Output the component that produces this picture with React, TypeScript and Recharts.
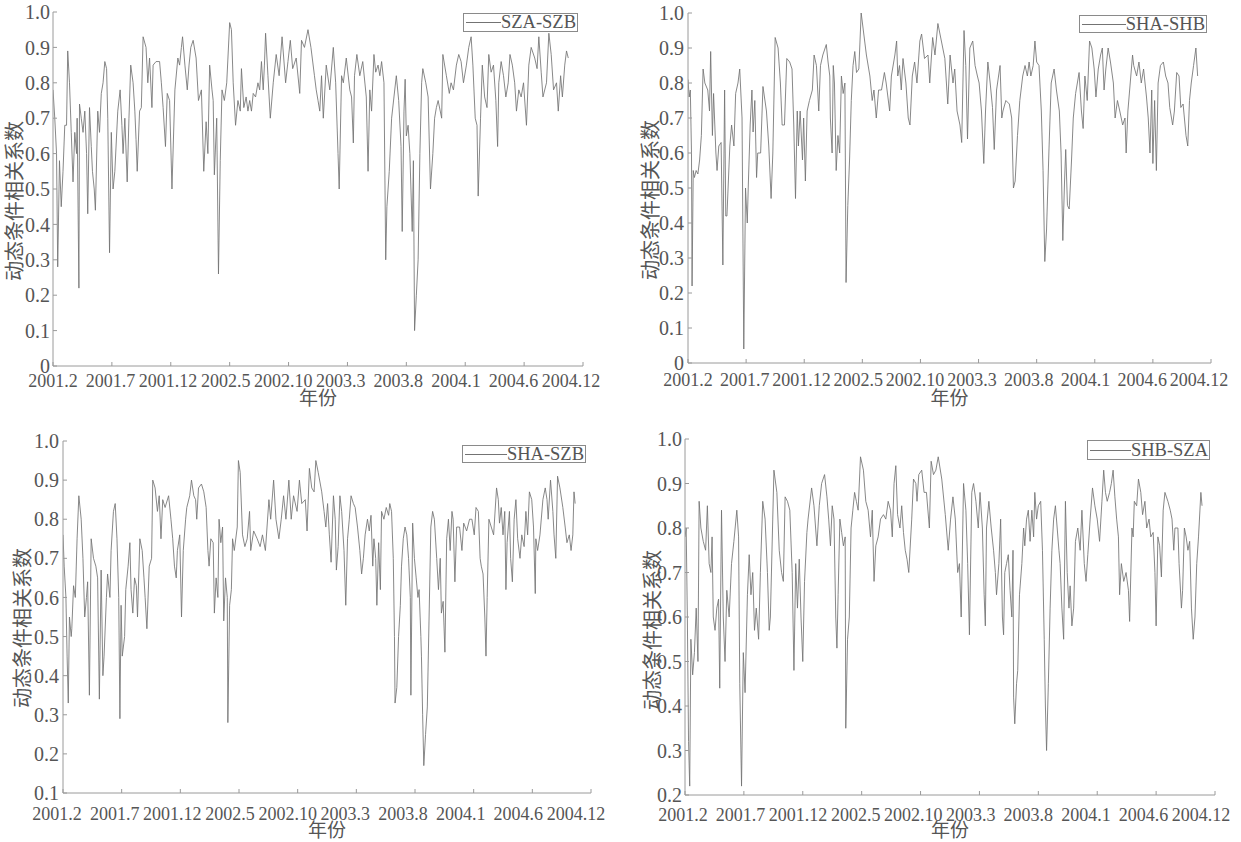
import React from 'react';
import { LineChart, Line, XAxis, YAxis, Legend } from 'recharts';

// trading-day index 0..900 on the x axis, one tick every 100 days
const xTicks = [0, 100, 200, 300, 400, 500, 600, 700, 800, 900];
const xTickLabels = ['2001.2', '2001.7', '2001.12', '2002.5', '2002.10', '2003.3', '2003.8', '2004.1', '2004.6', '2004.12'];

const yTicksFrom0 = [0, 0.1, 0.2, 0.3, 0.4, 0.5, 0.6, 0.7, 0.8, 0.9, 1.0];
const yTicksFrom01 = [0.1, 0.2, 0.3, 0.4, 0.5, 0.6, 0.7, 0.8, 0.9, 1.0];
const yTicksFrom02 = [0.2, 0.3, 0.4, 0.5, 0.6, 0.7, 0.8, 0.9, 1.0];

// [day, dcc] pairs
const szaSzb: [number, number][] = [
  [0,0.78],[3,0.70],[6,0.60],[8,0.28],[11,0.58],[14,0.45],[17,0.55],[20,0.68],[23,0.68],[25,0.89],[28,0.80],[31,0.66],[34,0.52],[37,0.66],[40,0.60],[41,0.70],[44,0.22],[45,0.74],[48,0.70],[51,0.66],[54,0.72],[57,0.60],[59,0.43],[62,0.73],[65,0.62],[67,0.55],[70,0.50],[72,0.44],[76,0.72],[79,0.66],[82,0.77],[85,0.80],[88,0.86],[91,0.84],[93,0.70],[96,0.32],[99,0.66],[102,0.50],[105,0.55],[110,0.72],[114,0.78],[117,0.68],[119,0.60],[122,0.70],[126,0.52],[129,0.70],[132,0.85],[136,0.80],[139,0.72],[141,0.64],[143,0.55],[147,0.72],[150,0.73],[153,0.93],[158,0.90],[161,0.80],[164,0.87],[168,0.73],[170,0.85],[175,0.86],[181,0.86],[184,0.80],[187,0.73],[191,0.62],[194,0.77],[198,0.75],[202,0.50],[207,0.78],[212,0.87],[215,0.85],[218,0.90],[220,0.93],[224,0.85],[228,0.78],[231,0.85],[234,0.90],[238,0.92],[243,0.87],[247,0.75],[252,0.78],[256,0.55],[260,0.69],[263,0.60],[266,0.85],[270,0.78],[272,0.75],[274,0.54],[278,0.70],[281,0.26],[284,0.58],[287,0.78],[291,0.75],[295,0.80],[300,0.97],[303,0.95],[306,0.80],[310,0.68],[314,0.75],[318,0.72],[320,0.84],[324,0.73],[328,0.76],[331,0.72],[334,0.75],[337,0.72],[340,0.77],[344,0.76],[348,0.80],[351,0.78],[354,0.86],[357,0.78],[359,0.85],[361,0.94],[365,0.82],[369,0.70],[374,0.80],[379,0.88],[384,0.82],[389,0.93],[395,0.80],[399,0.86],[403,0.92],[407,0.84],[413,0.87],[419,0.77],[422,0.92],[427,0.90],[433,0.95],[438,0.90],[444,0.82],[447,0.78],[450,0.75],[453,0.72],[456,0.82],[459,0.70],[464,0.85],[470,0.78],[476,0.90],[480,0.80],[484,0.60],[486,0.50],[490,0.82],[493,0.80],[498,0.87],[504,0.78],[507,0.76],[510,0.63],[512,0.82],[516,0.88],[521,0.82],[526,0.86],[532,0.76],[535,0.55],[538,0.78],[541,0.72],[545,0.88],[548,0.83],[552,0.85],[555,0.82],[558,0.86],[562,0.80],[565,0.30],[567,0.45],[571,0.55],[575,0.70],[579,0.76],[583,0.82],[587,0.75],[591,0.62],[593,0.38],[596,0.72],[598,0.81],[600,0.65],[603,0.68],[606,0.60],[610,0.38],[612,0.58],[614,0.10],[617,0.20],[620,0.30],[623,0.60],[626,0.80],[628,0.84],[633,0.80],[637,0.76],[641,0.50],[645,0.60],[648,0.70],[651,0.73],[654,0.75],[660,0.70],[662,0.88],[668,0.82],[673,0.77],[676,0.80],[680,0.78],[685,0.85],[689,0.88],[693,0.86],[697,0.80],[702,0.85],[706,0.90],[710,0.93],[713,0.85],[717,0.70],[720,0.68],[722,0.48],[726,0.70],[729,0.85],[733,0.76],[737,0.73],[740,0.88],[744,0.83],[748,0.85],[752,0.75],[755,0.62],[757,0.80],[761,0.86],[765,0.82],[769,0.76],[773,0.80],[776,0.88],[780,0.85],[784,0.80],[787,0.72],[791,0.78],[795,0.76],[799,0.80],[804,0.68],[808,0.85],[812,0.90],[818,0.87],[822,0.84],[825,0.93],[829,0.83],[832,0.76],[838,0.80],[842,0.94],[846,0.88],[850,0.78],[855,0.80],[858,0.72],[862,0.82],[865,0.76],[869,0.85],[872,0.89],[875,0.87],
];

const shaShb: [number, number][] = [
  [0,0.81],[2,0.76],[4,0.78],[6,0.60],[7,0.22],[9,0.55],[11,0.53],[14,0.55],[17,0.54],[20,0.58],[23,0.65],[26,0.84],[29,0.80],[34,0.78],[37,0.72],[39,0.89],[42,0.65],[44,0.77],[48,0.60],[50,0.55],[53,0.62],[57,0.63],[60,0.28],[63,0.78],[65,0.42],[67,0.42],[72,0.62],[75,0.68],[79,0.62],[82,0.77],[86,0.80],[89,0.84],[93,0.70],[96,0.04],[99,0.50],[102,0.40],[104,0.52],[107,0.68],[110,0.78],[112,0.66],[115,0.75],[118,0.53],[120,0.60],[125,0.60],[129,0.79],[135,0.72],[139,0.62],[143,0.47],[146,0.60],[150,0.93],[155,0.90],[159,0.80],[162,0.68],[166,0.68],[170,0.87],[175,0.86],[179,0.84],[182,0.68],[185,0.47],[188,0.72],[190,0.62],[193,0.72],[197,0.58],[199,0.70],[202,0.52],[205,0.72],[209,0.75],[214,0.78],[217,0.88],[221,0.85],[225,0.72],[228,0.85],[232,0.88],[238,0.91],[241,0.86],[244,0.82],[245,0.70],[248,0.60],[250,0.85],[252,0.80],[255,0.55],[258,0.65],[261,0.60],[264,0.82],[267,0.77],[270,0.80],[272,0.23],[275,0.45],[278,0.58],[281,0.75],[284,0.85],[287,0.89],[290,0.83],[294,0.84],[298,1.00],[301,0.96],[307,0.88],[313,0.82],[317,0.75],[320,0.78],[324,0.70],[328,0.78],[333,0.78],[338,0.83],[341,0.80],[347,0.72],[350,0.82],[356,0.88],[359,0.92],[361,0.82],[364,0.85],[367,0.78],[370,0.87],[375,0.80],[379,0.70],[382,0.68],[386,0.82],[390,0.86],[394,0.80],[399,0.92],[402,0.94],[407,0.87],[413,0.88],[416,0.80],[421,0.93],[425,0.88],[430,0.97],[436,0.92],[442,0.87],[447,0.74],[451,0.88],[456,0.80],[459,0.84],[463,0.72],[468,0.68],[471,0.63],[475,0.95],[478,0.85],[481,0.64],[485,0.90],[490,0.92],[494,0.85],[498,0.82],[501,0.80],[505,0.72],[509,0.57],[512,0.72],[516,0.86],[520,0.80],[524,0.73],[527,0.61],[531,0.78],[537,0.85],[540,0.70],[542,0.72],[547,0.75],[553,0.74],[557,0.70],[560,0.50],[563,0.52],[567,0.65],[571,0.75],[576,0.82],[580,0.85],[584,0.82],[587,0.86],[590,0.82],[594,0.85],[597,0.92],[600,0.86],[604,0.85],[608,0.72],[611,0.55],[614,0.29],[617,0.38],[621,0.60],[625,0.80],[630,0.84],[634,0.78],[639,0.72],[642,0.60],[645,0.35],[648,0.52],[650,0.61],[653,0.45],[656,0.44],[660,0.58],[663,0.70],[667,0.77],[670,0.80],[673,0.83],[677,0.72],[680,0.67],[683,0.82],[687,0.75],[691,0.92],[695,0.90],[699,0.84],[702,0.76],[706,0.84],[710,0.88],[713,0.90],[716,0.78],[719,0.84],[723,0.90],[727,0.86],[732,0.80],[735,0.70],[739,0.75],[743,0.72],[748,0.68],[752,0.70],[754,0.60],[757,0.72],[761,0.80],[765,0.88],[767,0.85],[772,0.82],[776,0.86],[780,0.80],[784,0.84],[789,0.76],[792,0.70],[795,0.60],[798,0.78],[800,0.57],[803,0.75],[806,0.55],[809,0.80],[813,0.85],[818,0.86],[822,0.82],[826,0.80],[829,0.73],[834,0.68],[837,0.72],[841,0.83],[845,0.82],[848,0.73],[852,0.74],[857,0.65],[860,0.62],[863,0.75],[866,0.80],[870,0.85],[874,0.90],[877,0.82],
];

const shaSzb: [number, number][] = [
  [0,0.76],[2,0.68],[5,0.60],[7,0.45],[9,0.33],[11,0.55],[14,0.50],[15,0.52],[18,0.63],[21,0.60],[24,0.75],[27,0.86],[31,0.80],[34,0.70],[37,0.55],[40,0.60],[42,0.64],[45,0.35],[48,0.75],[52,0.70],[56,0.68],[59,0.65],[62,0.34],[65,0.67],[68,0.40],[70,0.45],[74,0.60],[76,0.66],[80,0.60],[82,0.72],[86,0.82],[89,0.84],[92,0.75],[95,0.60],[97,0.29],[99,0.58],[101,0.45],[105,0.50],[107,0.62],[111,0.68],[114,0.74],[116,0.62],[119,0.56],[122,0.65],[125,0.63],[127,0.55],[131,0.75],[135,0.72],[138,0.65],[140,0.60],[143,0.52],[147,0.68],[151,0.70],[153,0.90],[157,0.88],[161,0.82],[164,0.86],[167,0.75],[170,0.85],[174,0.83],[180,0.86],[184,0.80],[187,0.75],[190,0.68],[193,0.65],[195,0.72],[199,0.76],[202,0.55],[205,0.72],[209,0.80],[211,0.83],[216,0.86],[219,0.90],[223,0.86],[226,0.85],[228,0.80],[231,0.88],[236,0.89],[240,0.87],[244,0.83],[247,0.72],[249,0.68],[252,0.75],[256,0.74],[258,0.56],[261,0.65],[264,0.60],[266,0.80],[269,0.74],[272,0.78],[274,0.54],[277,0.65],[280,0.60],[281,0.28],[284,0.58],[287,0.62],[289,0.75],[292,0.72],[297,0.78],[299,0.95],[302,0.92],[306,0.76],[310,0.73],[314,0.75],[318,0.82],[320,0.72],[325,0.77],[331,0.75],[336,0.73],[340,0.76],[345,0.72],[351,0.85],[354,0.80],[359,0.90],[363,0.80],[368,0.75],[372,0.80],[376,0.86],[380,0.80],[385,0.90],[389,0.80],[393,0.86],[399,0.82],[403,0.90],[407,0.84],[413,0.85],[416,0.77],[420,0.93],[424,0.88],[428,0.87],[431,0.95],[435,0.92],[441,0.87],[445,0.82],[448,0.78],[451,0.84],[454,0.76],[457,0.69],[461,0.86],[464,0.80],[466,0.67],[469,0.73],[472,0.86],[475,0.82],[479,0.72],[482,0.58],[485,0.75],[488,0.80],[491,0.86],[495,0.84],[498,0.83],[502,0.78],[506,0.72],[509,0.66],[512,0.70],[515,0.76],[519,0.80],[522,0.77],[525,0.81],[528,0.68],[530,0.75],[533,0.70],[535,0.58],[538,0.74],[541,0.62],[543,0.82],[547,0.80],[551,0.83],[555,0.81],[557,0.84],[560,0.82],[563,0.70],[565,0.50],[566,0.33],[569,0.37],[572,0.50],[575,0.58],[577,0.68],[580,0.75],[583,0.78],[586,0.76],[589,0.70],[592,0.60],[593,0.35],[596,0.79],[599,0.70],[602,0.65],[605,0.60],[607,0.62],[610,0.50],[611,0.45],[613,0.30],[615,0.17],[618,0.25],[621,0.32],[624,0.55],[627,0.78],[630,0.82],[633,0.80],[637,0.70],[640,0.62],[643,0.70],[645,0.56],[648,0.59],[651,0.46],[654,0.75],[657,0.80],[660,0.72],[663,0.82],[665,0.80],[668,0.64],[671,0.78],[676,0.78],[680,0.72],[683,0.79],[688,0.77],[693,0.80],[697,0.80],[701,0.76],[704,0.83],[708,0.82],[711,0.70],[713,0.68],[716,0.66],[719,0.55],[721,0.45],[723,0.60],[726,0.80],[730,0.78],[734,0.76],[739,0.88],[742,0.85],[744,0.79],[747,0.83],[750,0.76],[753,0.82],[755,0.62],[757,0.74],[761,0.82],[763,0.70],[766,0.64],[769,0.80],[772,0.85],[775,0.75],[779,0.70],[782,0.76],[786,0.73],[789,0.82],[792,0.76],[795,0.87],[799,0.85],[802,0.78],[805,0.61],[806,0.75],[809,0.72],[813,0.76],[818,0.85],[822,0.88],[825,0.85],[827,0.80],[831,0.90],[835,0.82],[837,0.76],[840,0.70],[843,0.91],[847,0.88],[852,0.83],[856,0.78],[859,0.74],[863,0.76],[866,0.72],[869,0.76],[871,0.87],[873,0.84],
];

const shbSza: [number, number][] = [
  [0,0.78],[2,0.80],[4,0.60],[6,0.32],[8,0.22],[10,0.55],[13,0.47],[16,0.52],[19,0.62],[22,0.50],[24,0.86],[27,0.80],[31,0.77],[35,0.75],[38,0.85],[41,0.72],[44,0.70],[46,0.78],[48,0.60],[51,0.57],[54,0.62],[57,0.64],[59,0.44],[62,0.84],[65,0.60],[68,0.50],[71,0.66],[75,0.60],[79,0.72],[83,0.77],[88,0.84],[91,0.78],[93,0.45],[96,0.22],[99,0.52],[102,0.43],[106,0.65],[109,0.74],[112,0.65],[115,0.70],[118,0.57],[121,0.62],[125,0.55],[128,0.70],[132,0.86],[136,0.82],[140,0.70],[143,0.57],[145,0.60],[149,0.82],[151,0.93],[156,0.88],[160,0.75],[164,0.70],[167,0.68],[170,0.87],[174,0.86],[178,0.84],[182,0.70],[185,0.48],[188,0.72],[191,0.62],[194,0.73],[197,0.60],[200,0.50],[203,0.68],[207,0.79],[209,0.82],[215,0.89],[219,0.85],[224,0.76],[228,0.85],[232,0.90],[237,0.92],[241,0.87],[244,0.82],[247,0.76],[250,0.85],[253,0.82],[256,0.60],[258,0.53],[260,0.65],[263,0.82],[266,0.79],[269,0.76],[272,0.78],[273,0.35],[276,0.55],[279,0.60],[282,0.80],[285,0.84],[288,0.88],[291,0.86],[294,0.84],[298,0.96],[303,0.93],[307,0.86],[311,0.84],[315,0.78],[318,0.84],[321,0.68],[324,0.76],[328,0.78],[332,0.82],[337,0.83],[341,0.82],[345,0.86],[349,0.84],[352,0.78],[355,0.90],[358,0.94],[361,0.83],[365,0.80],[368,0.85],[371,0.79],[374,0.75],[377,0.73],[380,0.70],[385,0.82],[388,0.91],[392,0.90],[394,0.86],[397,0.92],[402,0.93],[406,0.88],[410,0.88],[415,0.80],[418,0.95],[422,0.92],[426,0.93],[430,0.96],[436,0.91],[442,0.83],[447,0.75],[451,0.82],[455,0.87],[459,0.82],[463,0.70],[466,0.72],[469,0.60],[473,0.90],[477,0.84],[480,0.72],[483,0.56],[487,0.88],[490,0.90],[494,0.86],[498,0.80],[501,0.88],[505,0.80],[508,0.65],[510,0.58],[512,0.80],[516,0.86],[520,0.80],[524,0.75],[527,0.70],[529,0.65],[533,0.72],[536,0.82],[539,0.60],[541,0.56],[543,0.70],[546,0.72],[549,0.74],[552,0.66],[555,0.60],[557,0.75],[558,0.42],[560,0.36],[563,0.45],[565,0.48],[568,0.65],[572,0.72],[575,0.80],[577,0.76],[580,0.82],[583,0.84],[586,0.77],[589,0.84],[592,0.78],[594,0.88],[597,0.82],[600,0.85],[604,0.86],[607,0.75],[610,0.55],[612,0.40],[614,0.30],[617,0.45],[620,0.62],[623,0.75],[626,0.82],[629,0.85],[632,0.80],[635,0.75],[637,0.72],[640,0.62],[643,0.55],[646,0.86],[649,0.70],[652,0.62],[654,0.67],[657,0.58],[660,0.62],[663,0.77],[667,0.80],[671,0.75],[674,0.84],[678,0.72],[681,0.68],[684,0.74],[688,0.82],[692,0.89],[696,0.85],[700,0.82],[704,0.77],[708,0.86],[711,0.93],[714,0.88],[717,0.86],[721,0.88],[724,0.90],[727,0.93],[730,0.87],[733,0.82],[736,0.78],[738,0.65],[741,0.72],[745,0.68],[749,0.70],[753,0.66],[755,0.59],[759,0.80],[761,0.78],[763,0.86],[767,0.85],[770,0.91],[774,0.88],[777,0.83],[781,0.86],[784,0.80],[788,0.82],[791,0.78],[795,0.79],[798,0.70],[800,0.58],[803,0.78],[806,0.76],[809,0.69],[812,0.84],[815,0.88],[820,0.86],[824,0.84],[827,0.82],[830,0.75],[832,0.80],[837,0.80],[839,0.72],[843,0.62],[845,0.66],[848,0.80],[851,0.78],[854,0.75],[857,0.77],[860,0.62],[863,0.55],[866,0.60],[869,0.72],[872,0.78],[876,0.88],[878,0.85],
];

const SERIF = '"Liberation Serif", "Times New Roman", serif';
const CJK = '"Noto Sans CJK SC", sans-serif';
const AXIS = '#9a9a9a';
const TEXT = '#555';
const LINE = '#737373';
const X_AXIS_H = 20;
const TICK = -4; // MATLAB style ticks point inwards

const fmtY = (v: number) => (v === 0 ? '0' : v.toFixed(1));

const XTick = (props: any) => {
  const { x, y, payload, shift } = props;
  const k = Math.round(payload.value / 100);
  const dx = shift[0] + ((shift[1] - shift[0]) * k) / 9;
  return (
    <text x={x + dx} y={y} dy="0.72em" textAnchor="middle" fill={TEXT} fontSize={18} fontFamily={SERIF}>
      {xTickLabels[k]}
    </text>
  );
};

const legendBox = (w: number, h: number) => (props: any) => {
  const item = props.payload && props.payload[0];
  return (
    <div
      style={{
        width: w, height: h, boxSizing: 'border-box', border: '1px solid #8a8a8a', background: '#fff',
        display: 'flex', alignItems: 'center', paddingLeft: 2, paddingRight: 1,
        fontFamily: SERIF, fontSize: 18.5, color: TEXT, lineHeight: 1,
      }}
    >
      <span style={{ flexGrow: 1, borderTop: `1px solid ${LINE}`, height: 0 }} />
      <span style={{ whiteSpace: 'nowrap' }}>{item ? item.value : ''}</span>
    </div>
  );
};

interface PanelCfg {
  name: string;
  points: [number, number][];
  box: { left: number; top: number; width: number; height: number };
  plot: { left: number; right: number; top: number; bottom: number };
  yDomain: [number, number];
  yTicks: number[];
  xTickMargin: number;
  yTickMargin: number;
  yLabelX: number;
  yLabelDy: number;
  xLabelOffset: number;
  legend: { left: number; top: number; width: number; height: number };
  labelShift: [number, number];
}

const Panel = ({ cfg }: { cfg: PanelCfg }) => {
  const data = cfg.points.map(([day, value]) => ({ day, value }));
  const { box, plot } = cfg;
  const margin = {
    top: plot.top,
    right: box.width - plot.right,
    left: 0,
    bottom: box.height - plot.bottom - X_AXIS_H,
  };
  return (
    <div style={{ position: 'absolute', left: box.left, top: box.top, width: box.width, height: box.height }}>
      <LineChart width={box.width} height={box.height} data={data} margin={margin}>
        <XAxis
          xAxisId="bottom"
          dataKey="day"
          type="number"
          domain={[0, 900]}
          ticks={xTicks}
          interval={0}
          allowDataOverflow
          height={X_AXIS_H}
          stroke={AXIS}
          tickSize={TICK}
          tickMargin={cfg.xTickMargin}
          tickLine={{ stroke: AXIS }}
          tick={<XTick shift={cfg.labelShift} />}
          label={{
            value: '年份', position: 'bottom', offset: cfg.xLabelOffset,
            style: { fill: TEXT, fontSize: 19, fontFamily: CJK },
          }}
        />
        <XAxis
          xAxisId="top"
          orientation="top"
          dataKey="day"
          type="number"
          domain={[0, 900]}
          ticks={xTicks}
          interval={0}
          allowDataOverflow
          height={0}
          stroke={AXIS}
          tickSize={TICK}
          tickLine={{ stroke: AXIS }}
          tickFormatter={() => ''}
        />
        <YAxis
          yAxisId="left"
          type="number"
          domain={cfg.yDomain}
          ticks={cfg.yTicks}
          interval={0}
          allowDataOverflow
          width={plot.left}
          stroke={AXIS}
          tickSize={TICK}
          tickMargin={cfg.yTickMargin}
          tickLine={{ stroke: AXIS }}
          tick={{ fill: TEXT, fontSize: 20, fontFamily: SERIF }}
          tickFormatter={fmtY}
          label={{
            value: '动态条件相关系数', angle: -90, position: 'insideLeft', offset: cfg.yLabelX, dy: cfg.yLabelDy,
            style: { fill: TEXT, fontSize: 20, fontFamily: CJK, textAnchor: 'middle' },
          }}
        />
        <YAxis
          yAxisId="right"
          orientation="right"
          type="number"
          domain={cfg.yDomain}
          ticks={cfg.yTicks}
          interval={0}
          allowDataOverflow
          width={0}
          stroke={AXIS}
          tickSize={TICK}
          tickLine={{ stroke: AXIS }}
          tickFormatter={() => ''}
        />
        <Legend
          layout="horizontal"
          verticalAlign="middle"
          align="center"
          content={legendBox(cfg.legend.width, cfg.legend.height)}
          wrapperStyle={{ left: cfg.legend.left, top: cfg.legend.top, width: cfg.legend.width, height: cfg.legend.height }}
        />
        <Line
          xAxisId="bottom"
          yAxisId="left"
          name={cfg.name}
          dataKey="value"
          type="linear"
          stroke={LINE}
          strokeWidth={0.85}
          dot={false}
          isAnimationActive={false}
        />
      </LineChart>
    </div>
  );
};

const panels: PanelCfg[] = [
  {
    name: 'SZA-SZB', points: szaSzb,
    box: { left: 0, top: 0, width: 620, height: 420 },
    plot: { left: 53, right: 583, top: 12, bottom: 366 },
    yDomain: [0, 1], yTicks: yTicksFrom0,
    xTickMargin: 12, yTickMargin: 7, yLabelX: 15, yLabelDy: 12, xLabelOffset: 6,
    legend: { left: 463, top: 13, width: 115, height: 19 },
    labelShift: [0, -12],
  },
  {
    name: 'SHA-SHB', points: shaShb,
    box: { left: 620, top: 0, width: 621, height: 420 },
    plot: { left: 68, right: 591, top: 13, bottom: 363 },
    yDomain: [0, 1], yTicks: yTicksFrom0,
    xTickMargin: 14, yTickMargin: 8, yLabelX: 31, yLabelDy: 12, xLabelOffset: 9,
    legend: { left: 459, top: 15, width: 128, height: 18 },
    labelShift: [0, -12],
  },
  {
    name: 'SHA-SZB', points: shaSzb,
    box: { left: 0, top: 430, width: 620, height: 412 },
    plot: { left: 63, right: 591, top: 11, bottom: 363 },
    yDomain: [0.1, 1], yTicks: yTicksFrom01,
    xTickMargin: 18, yTickMargin: 8, yLabelX: 23, yLabelDy: 11, xLabelOffset: 11,
    legend: { left: 462, top: 15, width: 124, height: 18 },
    labelShift: [-6, -15],
  },
  {
    name: 'SHB-SZA', points: shbSza,
    box: { left: 620, top: 426, width: 621, height: 416 },
    plot: { left: 65, right: 595, top: 13, bottom: 369 },
    yDomain: [0.2, 1], yTicks: yTicksFrom02,
    xTickMargin: 17, yTickMargin: 7, yLabelX: 33, yLabelDy: 13, xLabelOffset: 9,
    legend: { left: 467, top: 14, width: 123, height: 20 },
    labelShift: [-2, -14],
  },
];

export default function App() {
  return (
    <div style={{ position: 'absolute', left: 0, top: 0, width: 1241, height: 842, background: '#fff', overflow: 'hidden' }}>
      {panels.map((p) => (
        <Panel key={p.name} cfg={p} />
      ))}
    </div>
  );
}
